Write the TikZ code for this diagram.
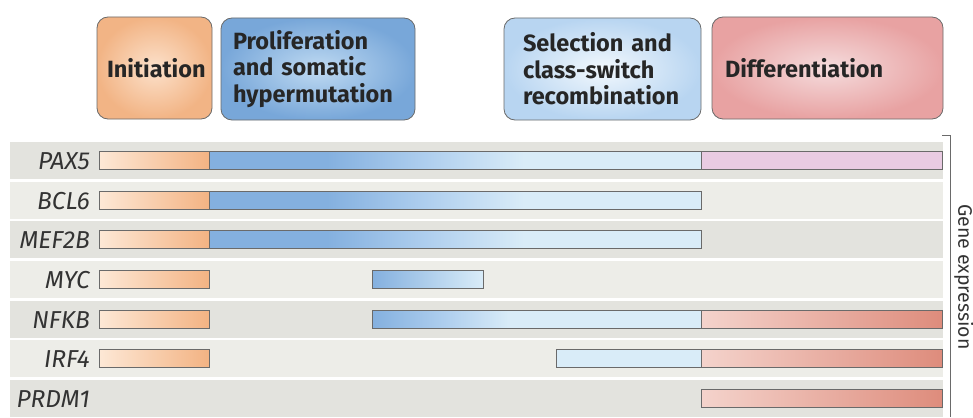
\documentclass[tikz,border=0pt]{standalone}
\usepackage{fontspec}
\setmainfont{Fira Sans}
\usepackage{tikz}

\definecolor{bandA}{HTML}{E3E3DE}
\definecolor{bandB}{HTML}{EDEDE8}
\definecolor{edge}{HTML}{6A6A6A}
\definecolor{orLight}{HTML}{FDE8D6}
\definecolor{orDark}{HTML}{F3B383}
\definecolor{blDark}{HTML}{84B0DF}
\definecolor{blMid}{HTML}{AECEEE}
\definecolor{blPale}{HTML}{D9ECF8}
\definecolor{pkBar}{HTML}{E9CBE2}
\definecolor{rdLight}{HTML}{F4D3CC}
\definecolor{rdDark}{HTML}{DE8C7C}
\definecolor{initOut}{HTML}{F2B485}
\definecolor{initIn}{HTML}{FCE1CB}
\definecolor{prolOut}{HTML}{78A7D9}
\definecolor{prolIn}{HTML}{BFDAF2}
\definecolor{selOut}{HTML}{B8D5F1}
\definecolor{selIn}{HTML}{F2F8FD}
\definecolor{diffOut}{HTML}{E8A2A2}
\definecolor{diffIn}{HTML}{F5DCDD}

\pgfdeclarehorizontalshading{blueLong}{100bp}{color(0bp)=(blDark); color(37bp)=(blDark); color(47bp)=(blMid); color(57bp)=(blPale); color(100bp)=(blPale)}
\pgfdeclarehorizontalshading{blueShort}{100bp}{color(0bp)=(blDark); color(25bp)=(blDark); color(36bp)=(blMid); color(46bp)=(blPale); color(100bp)=(blPale)}

\tikzset{
  stage/.style={draw=edge, line width=0.8pt, rounded corners=11pt, minimum height=102pt,
    inner sep=0pt, align=left, text=black!85, font=\bfseries\fontsize{23.5}{26.5}\selectfont},
  gene/.style={anchor=base east, inner sep=0pt, text=black!80, font=\itshape\fontsize{24.5}{26}\selectfont},
  bar/.style={draw=edge, line width=0.7pt},
  orbar/.style={bar, left color=orLight, right color=orDark},
  rdbar/.style={bar, left color=rdLight, right color=rdDark},
}

\begin{document}
\begin{tikzpicture}[x=1pt,y=-1pt]
  \useasboundingbox (0,0) rectangle (973,417);

  % Stages
  \node[stage, minimum width=115pt, text width=95pt, inner color=initIn, outer color=initOut] (init) at (154.5,68) {Initiation};
  \node[stage, minimum width=194pt, text width=170pt, inner color=prolIn, outer color=prolOut] (prolif) at (318,69) {Proliferation\\and somatic\\hypermutation};
  \node[stage, minimum width=197pt, text width=159pt, inner color=selIn, outer color=selOut] (select) at (602.5,69) {Selection and\\class-switch\\recombination};
  \node[stage, minimum width=231pt, text width=205pt, inner color=diffIn, outer color=diffOut] (diff) at (827.5,68) {Differentiation};

  % Row bands
  \fill[bandA] (10,141.5) rectangle (943,178.5);
  \fill[bandB] (10,181.5) rectangle (943,218.5);
  \fill[bandA] (10,220.5) rectangle (943,257.5);
  \fill[bandB] (10,260.5) rectangle (943,297.5);
  \fill[bandA] (10,300.5) rectangle (943,337.5);
  \fill[bandB] (10,339.5) rectangle (943,376.5);
  \fill[bandA] (10,379.5) rectangle (943,417);

  % Genes
  \node[gene] (pax5) at (90,169) {PAX5};
  \node[gene] (bcl6) at (90,209) {BCL6};
  \node[gene] (mef2b) at (90,248) {MEF2B};
  \node[gene] (myc) at (90,288) {MYC};
  \node[gene] (nfkb) at (90,328) {NFKB};
  \node[gene] (irf4) at (90,367) {IRF4};
  \node[gene] (prdm1) at (90,407) {PRDM1};

  % Expression bars
  \draw[orbar] (99,151) rectangle (209,169);
  \draw[bar, shading=blueLong] (209,151) rectangle (701,169);
  \draw[bar, fill=pkBar] (701,151) rectangle (942,169);

  \draw[orbar] (99,191) rectangle (209,209);
  \draw[bar, shading=blueLong] (209,191) rectangle (701,209);

  \draw[orbar] (99,230) rectangle (209,248);
  \draw[bar, shading=blueLong] (209,230) rectangle (701,248);

  \draw[orbar] (99,270) rectangle (209,288);
  \draw[bar, left color=blDark, right color=blPale] (372,270) rectangle (483,288);

  \draw[orbar] (99,310) rectangle (209,328);
  \draw[bar, shading=blueShort] (372,310) rectangle (701,328);
  \draw[rdbar] (701,310) rectangle (942,328);

  \draw[orbar] (99,349) rectangle (209,367);
  \draw[bar, fill=blPale] (556,349) rectangle (701,367);
  \draw[rdbar] (701,349) rectangle (942,367);

  \draw[rdbar] (701,389) rectangle (942,407);

  % Bracket
  \draw[edge, line width=0.8pt] (942,135) -- (950,135) -- (950,417);
  \node[rotate=-90, text=black!80, font=\fontsize{19.5}{22}\selectfont] (gexp) at (964,277) {Gene expression};
\end{tikzpicture}
\end{document}
